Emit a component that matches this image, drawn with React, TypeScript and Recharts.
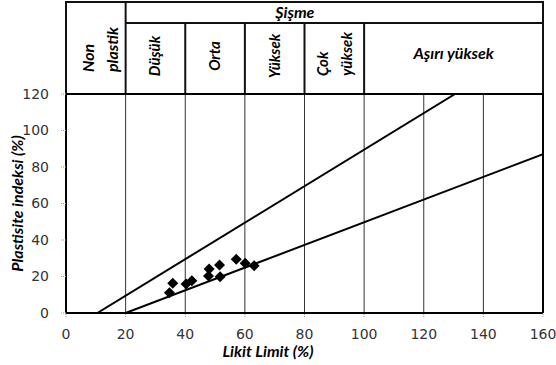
import React from 'react';
import * as R from 'recharts';

const { ComposedChart, XAxis, YAxis, Line, Scatter, CartesianGrid } = R as any;

// ---- data ----
const xTicks = [0, 20, 40, 60, 80, 100, 120, 140, 160];
const yTicks = [0, 20, 40, 60, 80, 100, 120];
const upperLine = [
  { x: 10.5, y: 0 },
  { x: 130.5, y: 120 },
];
const lowerLine = [
  { x: 20, y: 0 },
  { x: 160, y: 87 },
];
const samples = [
  { x: 34.7, y: 11.1 },
  { x: 35.8, y: 16.3 },
  { x: 40.3, y: 15.9 },
  { x: 42.2, y: 17.7 },
  { x: 48.0, y: 24.1 },
  { x: 47.8, y: 20.3 },
  { x: 51.5, y: 26.3 },
  { x: 51.7, y: 19.9 },
  { x: 57.1, y: 29.4 },
  { x: 60.1, y: 27.2 },
  { x: 63.1, y: 25.9 },
];
const headerDividers = [40, 60, 80, 100];
const swellTitle = 'Şişme';
const nonPlasticLines = ['Non', 'plastik'];
const swellClasses = [
  { from: 20, to: 40, lines: ['Düşük'] },
  { from: 40, to: 60, lines: ['Orta'] },
  { from: 60, to: 80, lines: ['Yüksek'] },
  { from: 80, to: 100, lines: ['Çok', 'yüksek'] },
];
const extremeClass = { from: 100, to: 160, label: 'Aşırı yüksek' };
const xLabel = 'Likit Limit (%)';
const yLabel = 'Plastisite indeksi (%)';

const X_MAX = 160;
const LABEL_FONT = "Lato, 'Liberation Sans', sans-serif";

const Diamond = (props: any) => {
  const { cx, cy } = props;
  if (cx == null || cy == null) return null;
  const r = 5.5;
  return (
    <polygon
      points={`${cx},${cy - r} ${cx + r},${cy} ${cx},${cy + r} ${cx - r},${cy}`}
      fill="#000"
    />
  );
};

const usePA: any = (R as any).usePlotArea || (R as any).useOffset || null;

function Header() {
  const pa = usePA ? usePA() : null;
  const left = pa && pa.x != null ? pa.x : pa && pa.left != null ? pa.left : 66;
  const top = pa && pa.y != null ? pa.y : pa && pa.top != null ? pa.top : 94;
  const width = pa && pa.width != null ? pa.width : 477;
  const height = pa && pa.height != null ? pa.height : 219;
  const sx = (v: number) => left + (v / X_MAX) * width;
  const hTop = top - 92;
  const rowY = top - 71;
  const right = sx(X_MAX);
  const textStyle: any = { fontFamily: LABEL_FONT, fontWeight: 700, fontStyle: 'italic', fill: '#000' };

  return (
    <g>
      {/* header frame */}
      <rect x={left} y={hTop} width={right - left} height={top - hTop} fill="#fff" stroke="#111" strokeWidth={2} />
      <line x1={sx(20)} y1={hTop} x2={sx(20)} y2={top} stroke="#111" strokeWidth={2} />
      <line x1={sx(20)} y1={rowY} x2={right} y2={rowY} stroke="#111" strokeWidth={2} />
      {headerDividers.map((v) => (
        <line key={v} x1={sx(v)} y1={rowY} x2={sx(v)} y2={top} stroke="#111" strokeWidth={2} />
      ))}
      <text x={sx(70.2)} y={hTop + 16} fontSize={16} style={textStyle}>
        {swellTitle}
      </text>
      {/* Non plastik */}
      {nonPlasticLines.map((t, i) => (
        <text
          key={t}
          transform={`translate(${sx(0) + 28 + i * 24},${top - 22}) rotate(-90)`}
          fontSize={16}
          textAnchor="start"
          style={textStyle}
        >
          {t}
        </text>
      ))}
      {swellClasses.map((c) => {
        const cxm = (sx(c.from) + sx(c.to)) / 2;
        if (c.lines.length === 1) {
          return (
            <text
              key={c.lines[0]}
              transform={`translate(${cxm + 5},${top - 38}) rotate(-90)`}
              fontSize={15}
              textAnchor="middle"
              style={textStyle}
            >
              {c.lines[0]}
            </text>
          );
        }
        return c.lines.map((t, i) => (
          <text
            key={t}
            transform={`translate(${cxm - 6 + i * 24},${top - 18}) rotate(-90)`}
            fontSize={15}
            textAnchor="start"
            style={textStyle}
          >
            {t}
          </text>
        ));
      })}
      <text
        x={(sx(extremeClass.from) + sx(extremeClass.to)) / 2}
        y={top - 35}
        fontSize={16}
        textAnchor="middle"
        style={textStyle}
      >
        {extremeClass.label}
      </text>
      {/* plot frame top/right */}
      <line x1={left} y1={top} x2={right} y2={top} stroke="#000" strokeWidth={2} />
      <line x1={right} y1={top} x2={right} y2={top + height} stroke="#000" strokeWidth={2} />
      {/* axis titles */}
      <text x={left + 202} y={top + height + 44} fontSize={16} textAnchor="middle" style={textStyle}>
        {xLabel}
      </text>
      <text
        transform={`translate(${left - 43},${top + height / 2}) rotate(-90)`}
        fontSize={16}
        textAnchor="middle"
        style={textStyle}
      >
        {yLabel}
      </text>
    </g>
  );
}

export default function App() {
  return (
    <div style={{ position: 'absolute', left: 0, top: 0, width: 556, height: 365, background: '#fff' }}>
      <ComposedChart width={556} height={365} margin={{ top: 94, right: 13, bottom: 0, left: 0 }}>
        <CartesianGrid horizontal={false} stroke="#333" strokeWidth={1} />
        <XAxis
          type="number"
          dataKey="x"
          domain={[0, 160]}
          ticks={xTicks}
          interval={0}
          height={52}
          allowDataOverflow
          axisLine={{ stroke: '#000', strokeWidth: 2 }}
          tickLine={{ stroke: '#999', strokeDasharray: '1 1' }}
          tickSize={4}
          tickMargin={12}
          tick={{ fill: '#333', fontSize: 14, fontFamily: "'DejaVu Sans', sans-serif" }}
        />
        <YAxis
          type="number"
          dataKey="y"
          domain={[0, 120]}
          ticks={yTicks}
          interval={0}
          width={66}
          allowDataOverflow
          axisLine={{ stroke: '#000', strokeWidth: 2 }}
          tickLine={{ stroke: '#999', strokeDasharray: '1 1' }}
          tickSize={5}
          tickMargin={12}
          tick={{ fill: '#333', fontSize: 14, fontFamily: "'DejaVu Sans', sans-serif" }}
        />
        <Line data={upperLine} dataKey="y" type="linear" stroke="#000" strokeWidth={2} dot={false} isAnimationActive={false} />
        <Line data={lowerLine} dataKey="y" type="linear" stroke="#000" strokeWidth={2} dot={false} isAnimationActive={false} />
        <Scatter data={samples} dataKey="y" fill="#000" shape={Diamond} isAnimationActive={false} />
        <Header />
      </ComposedChart>
    </div>
  );
}
